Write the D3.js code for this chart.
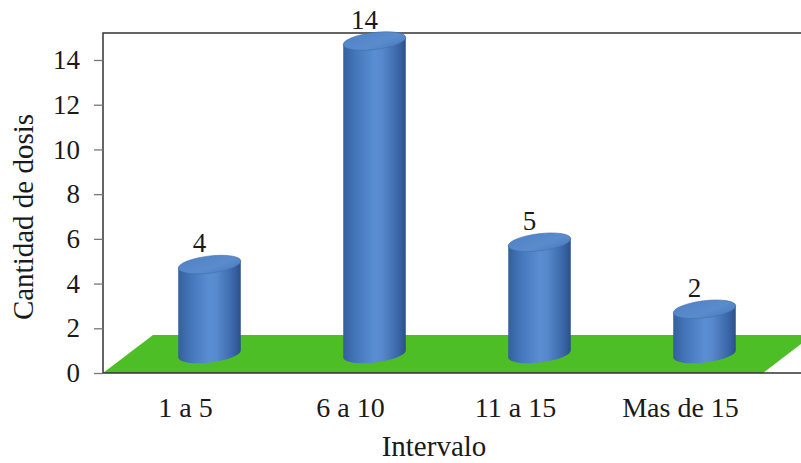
<!DOCTYPE html>
<html>
<head>
<meta charset="utf-8">
<script src="https://cdn.jsdelivr.net/npm/d3@7"></script>
<style>
  html, body { margin: 0; padding: 0; background: #ffffff; }
  svg { display: block; }
  svg text { font-family: "Liberation Serif", Tinos, "Times New Roman", "DejaVu Serif", serif !important; fill: #1a1a1a; }
</style>
</head>
<body>
<svg id="chart" width="801" height="463"></svg>
<script>
// Doses per interval
const categories = ["1 a 5", "6 a 10", "11 a 15", "Mas de 15"];
const values = [4, 14, 5, 2];
const yTicks = [0, 2, 4, 6, 8, 10, 12, 14];
const xTitle = "Intervalo";
const yTitle = "Cantidad de dosis";

const W = 801, H = 463;
const plotLeft = 103, plotRight = 763, plotTop = 33, plotBase = 373;
const depthX = 50, depthY = -38;          // floor depth offset
const midX = depthX / 2, midY = depthY / 2; // bars stand mid-depth
const fontSize = 27;
const serif = '"Liberation Serif", Tinos, "Times New Roman", "DejaVu Serif", serif';

const svg = d3.select("#chart");
const defs = svg.append("defs");

const bodyGrad = defs.append("linearGradient")
  .attr("id", "cylBody").attr("x1", "0").attr("x2", "1").attr("y1", "0").attr("y2", "0");
[["0%", "#34609c"], ["18%", "#4274b8"], ["50%", "#5a8ed2"], ["62%", "#5789cc"], ["88%", "#3a66a8"], ["100%", "#2b5089"]]
  .forEach(([o, c]) => bodyGrad.append("stop").attr("offset", o).attr("stop-color", c));

const topGrad = defs.append("linearGradient")
  .attr("id", "cylTop").attr("x1", "0").attr("x2", "1").attr("y1", "0").attr("y2", "1");
[["0%", "#4f82c6"], ["60%", "#5a8bcd"], ["100%", "#4a7bbf"]]
  .forEach(([o, c]) => topGrad.append("stop").attr("offset", o).attr("stop-color", c));

const y = d3.scaleLinear().domain([0, 14]).range([plotBase, 60]);
const x = d3.scaleBand().domain(categories).range([plotLeft, plotRight]);

// floor
svg.append("path")
  .attr("d", `M${plotLeft},${plotBase} L${plotRight},${plotBase} L${plotRight + depthX},${plotBase + depthY} L${plotLeft + depthX},${plotBase + depthY} Z`)
  .attr("fill", "#4dbe26");

// frame
svg.append("path")
  .attr("d", `M${W},${plotTop} L${plotLeft},${plotTop} L${plotLeft},${plotBase} L${W},${plotBase}`)
  .attr("fill", "none").attr("stroke", "#333").attr("stroke-width", 1.5);

// left axis
const yAxis = svg.append("g")
  .attr("transform", `translate(${plotLeft},0)`)
  .call(d3.axisLeft(y).tickValues(yTicks).tickSize(9).tickPadding(14))
  .attr("font-family", serif);
yAxis.select(".domain").remove();
yAxis.selectAll(".tick line").attr("stroke", "#777").attr("stroke-width", 1.3);
yAxis.selectAll(".tick text").attr("font-size", fontSize).attr("fill", "#1a1a1a");

// category axis
const xAxis = svg.append("g")
  .attr("transform", `translate(0,${plotBase})`)
  .call(d3.axisBottom(x).tickSize(0).tickPadding(24))
  .attr("font-family", serif);
xAxis.select(".domain").remove();
xAxis.selectAll(".tick text").attr("font-size", 28).attr("fill", "#1a1a1a");

// cylinders
const rx = 31.5, ry = 8.5, tilt = -7;
const ex = rx * Math.cos(tilt * Math.PI / 180);
const ey = rx * Math.sin(tilt * Math.PI / 180);

const bars = svg.append("g").selectAll("g")
  .data(categories.map((c, i) => ({ c, v: values[i] })))
  .join("g");

bars.each(function (d) {
  const g = d3.select(this);
  const cx = x(d.c) + x.bandwidth() / 2 + midX - 1;
  const yb = y(0) + midY;
  const yt = y(d.v) + midY;
  g.append("path")
    .attr("d", `M${cx - ex},${yt - ey} L${cx - ex},${yb - ey} A${rx},${ry} ${tilt} 0 0 ${cx + ex},${yb + ey} L${cx + ex},${yt + ey} Z`)
    .attr("fill", "url(#cylBody)");
  g.append("ellipse")
    .attr("cx", cx).attr("cy", yt).attr("rx", rx).attr("ry", ry)
    .attr("transform", `rotate(${tilt},${cx},${yt})`)
    .attr("fill", "url(#cylTop)")
    .attr("stroke", "#4070ad").attr("stroke-width", 0.6);
  g.append("text")
    .attr("x", cx - 10).attr("y", yt - ry - 4)
    .attr("text-anchor", "middle")
    .attr("font-family", serif)
    .attr("font-size", fontSize)
    .text(d.v);
});

// axis titles
svg.append("text")
  .attr("x", 434).attr("y", 456)
  .attr("text-anchor", "middle").attr("font-size", 29)
  .attr("font-family", serif)
  .text(xTitle);

svg.append("text")
  .attr("transform", "translate(33,217) rotate(-90)")
  .attr("text-anchor", "middle").attr("font-size", 29)
  .attr("font-family", serif)
  .text(yTitle);
</script>
</body>
</html>
